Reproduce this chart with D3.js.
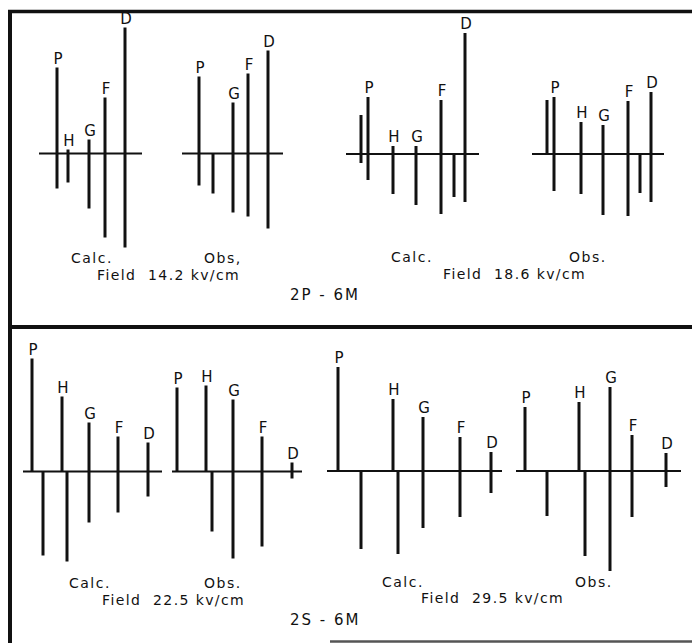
<!DOCTYPE html>
<html>
<head>
<meta charset="utf-8">
<script src="https://cdn.jsdelivr.net/npm/d3@7"></script>
<style>
  body { margin: 0; background: #fff; }
  svg text { font-family: 'DejaVu Sans', sans-serif; fill: #111; }
</style>
</head>
<body>
<div id="chart"></div>
<script>
// Stark patterns, each row: [line, offset, up intensity, down intensity]
var calc142 = [['P', 1.8, 8.6, 3.5], ['H', 2.9, 0.4, 2.9], ['G', 5.0, 1.4, 5.5],
               ['F', 6.6, 5.6, 8.4], ['D', 8.6, 12.6, 9.4]];
var obs142  = [['P', 1.7, 7.7, 3.2], ['', 3.1, 0, 4.0], ['G', 5.1, 5.1, 5.9],
               ['F', 6.6, 8.0, 6.3], ['D', 8.6, 10.3, 7.5]];
var calc186 = [['', 1.5, 3.9, 0.9], ['P', 2.2, 5.7, 2.6], ['H', 4.7, 0.8, 4.0], ['G', 7.0, 0.8, 5.1],
               ['F', 9.5, 5.4, 6.0], ['', 10.8, 0, 4.3], ['D', 11.9, 12.1, 4.8]];
var obs186  = [['', 1.5, 5.4, 0], ['P', 2.2, 5.7, 3.7], ['H', 4.9, 3.2, 4.0], ['G', 7.1, 2.9, 6.1],
               ['F', 9.6, 5.3, 6.2], ['', 10.8, 0, 3.9], ['D', 11.9, 6.2, 4.8]];
var calc225 = [['P', 0.9, 11.3, 0], ['', 2.0, 0, 8.4], ['H', 3.9, 7.5, 0], ['', 4.4, 0, 9.0],
               ['G', 6.6, 4.9, 5.1], ['F', 9.5, 3.5, 4.1], ['D', 12.5, 2.9, 2.5]];
var obs225  = [['P', 0.5, 8.4, 0], ['H', 3.4, 8.6, 0], ['', 4.0, 0, 6.0],
               ['G', 6.1, 7.2, 8.7], ['F', 9.0, 3.5, 7.5], ['D', 12.0, 0.9, 0.7]];
var calc295 = [['P', 1.1, 10.4, 0], ['', 3.4, 0, 7.8], ['H', 6.6, 7.2, 0], ['', 7.1, 0, 8.3],
               ['G', 9.6, 5.4, 5.7], ['F', 13.3, 3.4, 4.6], ['D', 16.4, 1.9, 2.2]];
var obs295  = [['P', 0.9, 6.4, 0], ['', 3.1, 0, 4.5], ['H', 6.3, 6.9, 0], ['', 6.9, 0, 8.5],
               ['G', 9.4, 8.4, 10.0], ['F', 11.6, 3.6, 4.6], ['D', 15.0, 1.8, 1.6]];

var fields = ['14.2', '18.6', '22.5', '29.5'];
var transitions = ['2P - 6M', '2S - 6M'];

var width = 692, height = 643;

var svg = d3.select('#chart').append('svg')
    .attr('width', width)
    .attr('height', height);

// frame
var frame = [
  [8, 11.5, 692, 11.5, 3.5],
  [10, 10, 10, 643, 4],
  [8, 327, 692, 327, 4]
];
svg.selectAll('line.frame').data(frame)
  .enter().append('line')
    .attr('class', 'frame')
    .attr('x1', function(d) { return d[0]; })
    .attr('y1', function(d) { return d[1]; })
    .attr('x2', function(d) { return d[2]; })
    .attr('y2', function(d) { return d[3]; })
    .style('stroke', '#111')
    .style('stroke-width', function(d) { return d[4]; });

svg.append('line')
    .attr('x1', 330).attr('y1', 641.5)
    .attr('x2', 692).attr('y2', 641.5)
    .style('stroke', '#555')
    .style('stroke-width', 2.5);

var panels = [
  { data: calc142, x0: 39,  len: 10.3, y0: 153.5 },
  { data: obs142,  x0: 182, len: 10.1, y0: 153.5 },
  { data: calc186, x0: 346, len: 13.3, y0: 154 },
  { data: obs186,  x0: 532, len: 13.2, y0: 154 },
  { data: calc225, x0: 23,  len: 13.9, y0: 471.5 },
  { data: obs225,  x0: 172, len: 13.0, y0: 471.5 },
  { data: calc295, x0: 327, len: 17.5, y0: 471 },
  { data: obs295,  x0: 516, len: 16.5, y0: 471 }
];

panels.forEach(function(p) {
  var xScale = d3.scaleLinear()
      .domain([0, p.len])
      .range([p.x0, p.x0 + p.len * 10]);
  var yScale = d3.scaleLinear()
      .domain([-15, 15])
      .range([p.y0 + 150, p.y0 - 150]);

  var g = svg.append('g');

  g.append('line')
      .attr('x1', xScale(0)).attr('x2', xScale(p.len))
      .attr('y1', yScale(0)).attr('y2', yScale(0))
      .style('stroke', '#111')
      .style('stroke-width', 2);

  g.selectAll('line.bar').data(p.data)
    .enter().append('line')
      .attr('class', 'bar')
      .attr('x1', function(d) { return xScale(d[1]); })
      .attr('x2', function(d) { return xScale(d[1]); })
      .attr('y1', function(d) { return yScale(d[2]); })
      .attr('y2', function(d) { return yScale(-d[3]); })
      .style('stroke', '#111')
      .style('stroke-width', 3);

  g.selectAll('text.lbl').data(p.data.filter(function(d) { return d[0]; }))
    .enter().append('text')
      .attr('class', 'lbl')
      .attr('x', function(d) { return xScale(d[1]) + 1; })
      .attr('y', function(d) { return yScale(d[2]) - 4; })
      .attr('text-anchor', 'middle')
      .style('font-size', '15px')
      .text(function(d) { return d[0]; });
});

// captions
var captions = [
  { calc: [71, 263],  obs: [204, 263], obsText: 'Obs,', field: [97, 280] },
  { calc: [391, 262], obs: [569, 262], obsText: 'Obs.', field: [443, 279] },
  { calc: [69, 588],  obs: [204, 588], obsText: 'Obs.', field: [102, 605] },
  { calc: [382, 587], obs: [575, 587], obsText: 'Obs.', field: [421, 603] }
];

captions.forEach(function(c, i) {
  svg.append('text')
      .attr('x', c.calc[0]).attr('y', c.calc[1])
      .style('font-size', '14px')
      .style('letter-spacing', '1.5px')
      .text('Calc.');
  svg.append('text')
      .attr('x', c.obs[0]).attr('y', c.obs[1])
      .style('font-size', '14px')
      .style('letter-spacing', '1.5px')
      .text(c.obsText);
  svg.append('text')
      .attr('x', c.field[0]).attr('y', c.field[1])
      .style('font-size', '14px')
      .style('letter-spacing', '1.4px')
      .style('white-space', 'pre')
      .text('Field  ' + fields[i] + ' kv/cm');
});

svg.selectAll('text.trans').data(transitions)
  .enter().append('text')
    .attr('class', 'trans')
    .attr('x', 290)
    .attr('y', function(d, i) { return i ? 625 : 300; })
    .style('font-size', '15px')
    .style('letter-spacing', '2px')
    .style('white-space', 'pre')
    .text(function(d) { return d; });
</script>
</body>
</html>
